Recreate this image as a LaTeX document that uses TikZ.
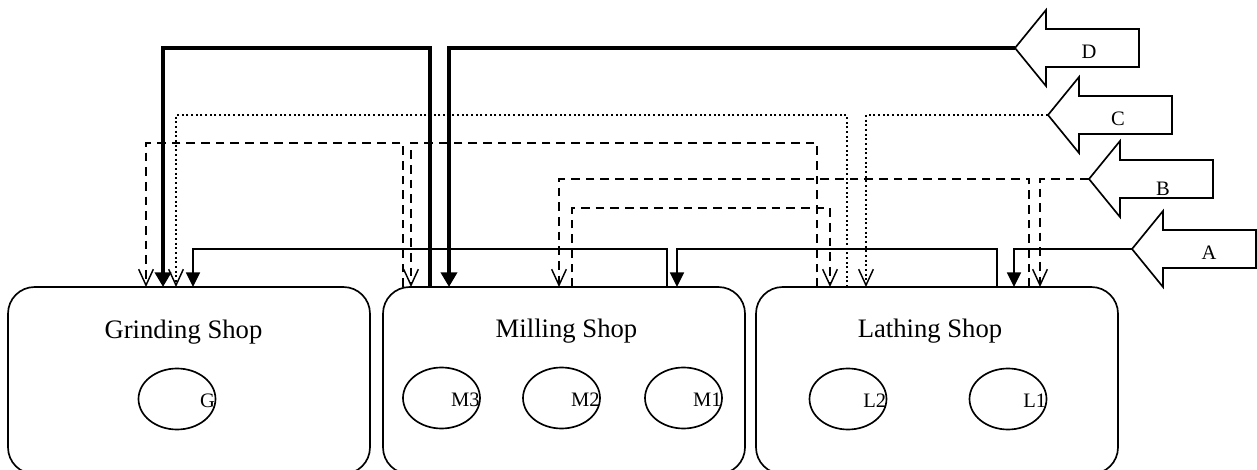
\documentclass[tikz,border=0pt]{standalone}
\usepackage{fontspec}
\setmainfont{Liberation Serif}
\usetikzlibrary{arrows.meta,shapes.geometric}
\tikzset{
  shopbox/.style={draw, line width=1.25pt, rounded corners=20pt, minimum width=271.5pt, minimum height=140.25pt, inner sep=0pt, outer sep=0pt, anchor=north west},
  machine/.style={draw, ellipse, line width=1.25pt, minimum width=57.75pt, minimum height=45.75pt, inner sep=0pt},
  shoplabel/.style={font=\fontsize{20}{24}\selectfont, anchor=base, inner sep=0pt},
  mlabel/.style={font=\fontsize{15.4}{18}\selectfont, anchor=east, inner sep=0pt},
  arrowlabel/.style={font=\fontsize{15.4}{18}\selectfont, inner sep=0pt},
  blockarrow/.style={draw, line width=1.25pt, line join=miter, fill=white},
  flowA/.style={line width=1.25pt, -{Triangle[length=11pt,width=10.5pt]}},
  flowB/.style={line width=1.1pt, dash pattern=on 6.5pt off 4.5pt, -{Straight Barb[length=12pt,width=11pt]}},
  flowC/.style={line width=1.5pt, dash pattern=on 1.5pt off 2pt, -{Straight Barb[length=12pt,width=11pt,line width=1.1pt]}},
  flowD/.style={line width=3.4pt, -{Triangle[length=11pt,width=12pt]}}
}
\begin{document}
\begin{tikzpicture}[x=0.75pt, y=-0.75pt]
    \useasboundingbox (0,0) rectangle (1257,470);
    \node[shopbox] (grind) at (8,287) {};
    \node[shopbox] (mill) at (383,287) {};
    \node[shopbox] (lathe) at (756,287) {};
    \node[shoplabel] (grind lbl) at (183.5,339) {Grinding Shop};
    \node[shoplabel] (mill lbl) at (566.5,338) {Milling Shop};
    \node[shoplabel] (lathe lbl) at (930,338) {Lathing Shop};
    \node[machine] (g) at (177,399) {};
    \node[machine] (m3) at (441.5,398) {};
    \node[machine] (m2) at (561.5,398) {};
    \node[machine] (m1) at (683.5,398) {};
    \node[machine] (l2) at (848,399) {};
    \node[machine] (l1) at (1008,399) {};
    \node[mlabel] (g lbl) at ([shift={(-1,2)}]g.east) {G};
    \node[mlabel] (m3 lbl) at ([shift={(-1,2)}]m3.east) {M3};
    \node[mlabel] (m2 lbl) at ([shift={(-1,2)}]m2.east) {M2};
    \node[mlabel] (m1 lbl) at ([shift={(-1,2)}]m1.east) {M1};
    \node[mlabel] (l2 lbl) at ([shift={(-1,2)}]l2.east) {L2};
    \node[mlabel] (l1 lbl) at ([shift={(-1,2)}]l1.east) {L1};
    \foreach \n/\tx/\ty/\lx/\ly in {D/1015/48/74/4, C/1048/115/70/4, B/1089/179/74/10, A/1132/249/77/4}{
        \coordinate (\n) at (\tx,\ty);
        \draw[blockarrow] (\n) -- ++(31,-38) -- ++(0,19) -- ++(93,0) -- ++(0,38) -- ++(-93,0) -- ++(0,19) -- cycle;
        \node[arrowlabel] (\n lbl) at ([shift={(\lx,\ly)}]\n) {\n};
    }
    \draw[flowD] (D) -| (mill.north -| 449,0);
    \draw[flowD] (mill.north -| 430,0) -- (430,48) -| (grind.north -| 163,0);
    \draw[flowC] (C) -| (lathe.north -| 866,0);
    \draw[flowC] (lathe.north -| 847,0) -- (847,115) -| (grind.north -| 176,0);
    \draw[flowB] (B) -| (lathe.north -| 1040,0);
    \draw[flowB] (lathe.north -| 1029,0) -- (1029,179) -| (mill.north -| 559,0);
    \draw[flowB] (mill.north -| 572,0) -- (572,208) -| (lathe.north -| 830,0);
    \draw[flowB] (lathe.north -| 817,0) -- (817,143) -| (mill.north -| 411,0);
    \draw[flowB] (mill.north -| 403,0) -- (403,143) -| (grind.north -| 146,0);
    \draw[flowA] (A) -| (lathe.north -| 1014,0);
    \draw[flowA] (lathe.north -| 997,0) -- (997,249) -| (mill.north -| 677,0);
    \draw[flowA] (mill.north -| 667,0) -- (667,249) -| (grind.north -| 193,0);
\end{tikzpicture}
\end{document}
